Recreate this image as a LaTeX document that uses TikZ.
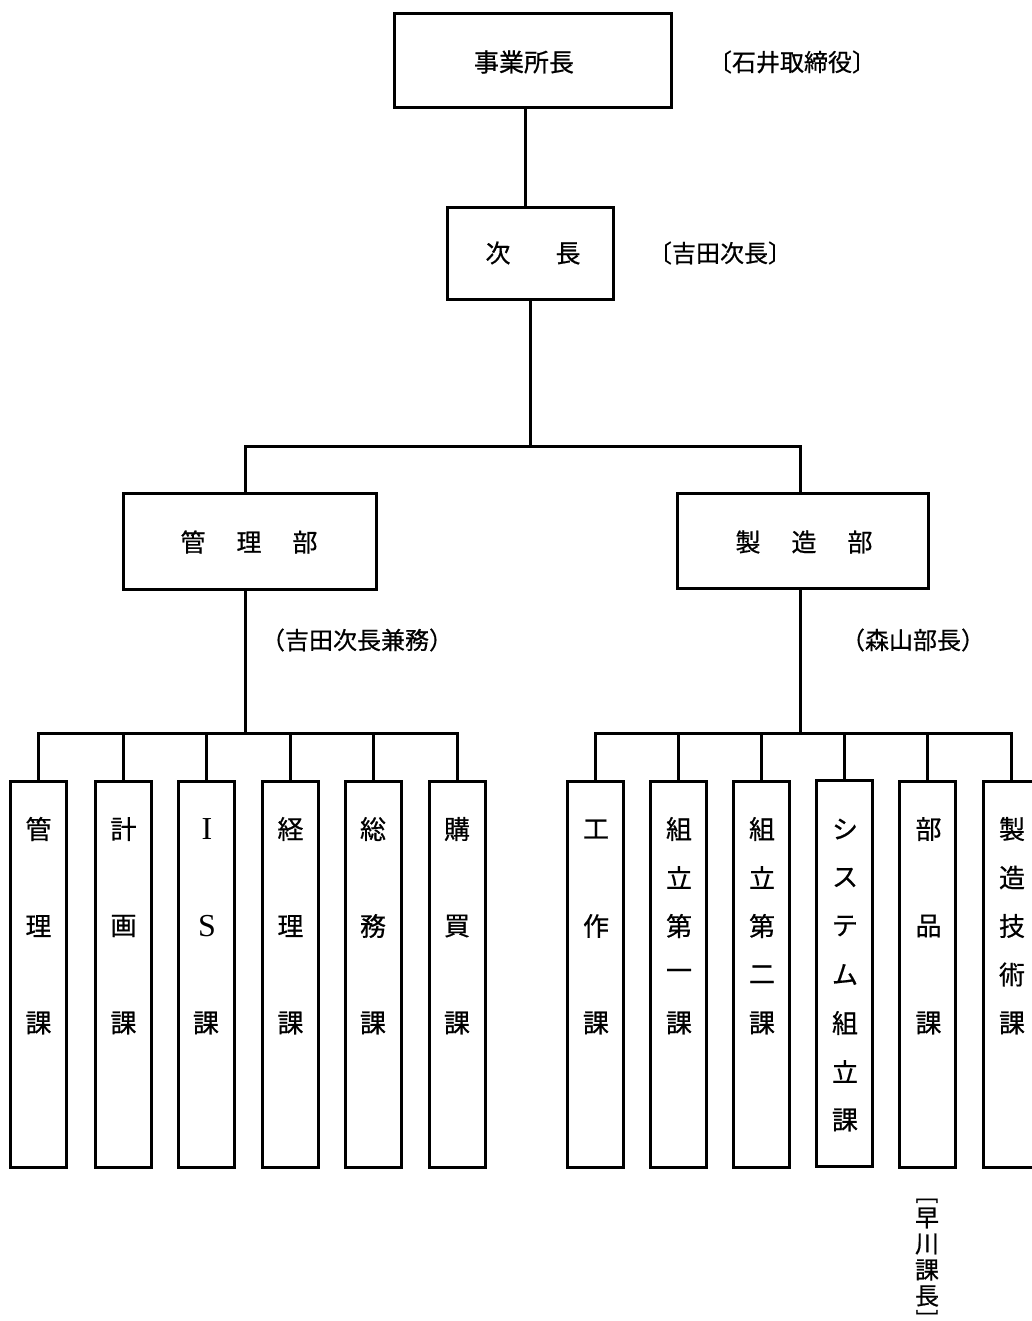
\documentclass[tikz,border=0pt]{standalone}
\usepackage{fontspec}
\setmainfont{Noto Sans CJK JP}[FakeBold=0.6]
\newfontfamily\latinser{Liberation Serif}
\newcommand\colchars[3]{\foreach \k/\c in {#3}{\node[ch] (#1-\k) at ({#2},{829+48.5*\k}) {\c};}}
\begin{document}
\begin{tikzpicture}[x=1pt,y=-1pt,
  box/.style={draw, line width=3pt, rectangle, inner sep=0pt},
  conn/.style={line width=3pt},
  txt/.style={inner sep=0pt, font=\fontsize{25}{30}\selectfont},
  lbl/.style={inner sep=0pt, font=\fontsize{24}{28}\selectfont},
  col/.style={box, minimum width=56pt, minimum height=386pt},
  ch/.style={inner sep=0pt, font=\fontsize{26}{30}\selectfont},
  vch/.style={inner sep=0pt, font=\fontsize{24}{28}\selectfont},
  brk/.style={inner sep=0pt, rotate=-90, font=\fontsize{22}{26}\selectfont},
  latinch/.style={inner sep=0pt, font=\fontsize{32}{36}\latinser}]
\useasboundingbox (0,0) rectangle (1032,1321);
\clip (0,0) rectangle (1032,1321);
\fill[white] (0,0) rectangle (1032,1321);

% top levels
\node[box, minimum width=277pt, minimum height=94pt] (ceo) at (532.5,61) {};
\node[txt] (ceot) at (524,62) {事業所長};
\node[lbl] (ceol) at (792,62) {〔石井取締役〕};

\node[box, minimum width=166pt, minimum height=92pt] (jicho) at (530,254) {};
\node[txt] (jichot) at (533,253) {次\hspace{45pt}長};
\node[lbl] (jichol) at (720,253) {〔吉田次長〕};

\node[box, minimum width=253pt, minimum height=96pt] (kanri) at (249.5,541) {};
\node[txt] (kanrit) at (249,542) {管\hspace{31pt}理\hspace{31pt}部};
\node[box, minimum width=251pt, minimum height=95pt] (seizo) at (802.5,540.5) {};
\node[txt] (seizot) at (804,542) {製\hspace{31pt}造\hspace{31pt}部};

\node[lbl] (kanril) at (357,640) {（吉田次長兼務）};
\node[lbl] (seizol) at (913,640) {（森山部長）};

% hub coordinates
\coordinate (t1) at (525,0);
\coordinate (th) at (530,446);
\coordinate (kx) at (245,446);
\coordinate (sx) at (800,446);
\coordinate (lh) at (245,733);
\coordinate (rh) at (800,733);

\draw[conn] (ceo.south -| t1) -- (jicho.north -| t1);
\draw[conn] (jicho.south) -- (th);
\draw[conn] (kanri.north -| kx) -- (kx) -- (sx) -- (seizo.north -| sx);
\draw[conn] (kanri.south -| lh) -- (lh);
\draw[conn] (seizo.south -| rh) -- (rh);

% left columns
\node[col] (a1) at (38.5,974) {};
\node[col] (a2) at (123.5,974) {};
\node[col] (a3) at (206,974) {};
\node[col] (a4) at (290.5,974) {};
\node[col] (a5) at (373,974) {};
\node[col] (a6) at (457,974) {};
\colchars{a1t}{38.5}{0/管,2/理,4/課}
\colchars{a2t}{123.5}{0/計,2/画,4/課}
\node[latinch] (a3t-0) at (207,829) {I};
\node[latinch] (a3t-2) at (207,926) {S};
\node[ch] (a3t-4) at (206,1023) {課};
\colchars{a4t}{290.5}{0/経,2/理,4/課}
\colchars{a5t}{373}{0/総,2/務,4/課}
\colchars{a6t}{457}{0/購,2/買,4/課}

\draw[conn] (a1.north) -- (a1.north |- lh) -- (a6.north |- lh) -- (a6.north);
\foreach \n in {a2,a3,a4,a5} {\draw[conn] (\n.north) -- (\n.north |- lh);}

% right columns
\node[col] (b1) at (595,974) {};
\node[col] (b2) at (678.5,974) {};
\node[col] (b3) at (761.5,974) {};
\node[col] (b4) at (844.5,973) {};
\node[col] (b5) at (927.5,974) {};
\node[col] (b6) at (1011,974) {};
\colchars{b1t}{596}{0/工,2/作,4/課}
\colchars{b2t}{679}{0/組,1/立,2/第,3/一,4/課}
\colchars{b3t}{762}{0/組,1/立,2/第,3/二,4/課}
\colchars{b4t}{845}{0/シ,1/ス,2/テ,3/ム,4/組,5/立,6/課}
\colchars{b5t}{928.5}{0/部,2/品,4/課}
\colchars{b6t}{1012}{0/製,1/造,2/技,3/術,4/課}

\draw[conn] (b1.north) -- (b1.north |- rh) -- (b6.north |- rh) -- (b6.north);
\foreach \n in {b2,b3,b4,b5} {\draw[conn] (\n.north) -- (\n.north |- rh);}

% vertical label under 部品課
\node[brk] (h0) at (927,1200) {[};
\node[vch] (h1) at (927,1218) {早};
\node[vch] (h2) at (927,1244) {川};
\node[vch] (h3) at (927,1270) {課};
\node[vch] (h4) at (927,1296) {長};
\node[brk] (h5) at (927,1313) {]};
\end{tikzpicture}
\end{document}
